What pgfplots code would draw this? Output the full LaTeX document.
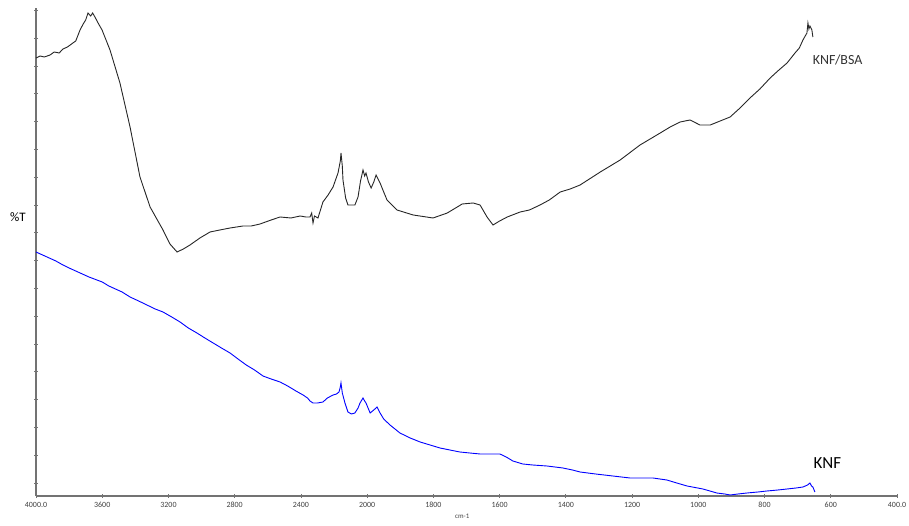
\documentclass[border=0pt]{standalone}
\usepackage{fontspec}
\setmainfont{Carlito}
\usepackage{pgfplots}
\pgfplotsset{compat=1.18}
\usepackage{pgfplotstable}

\pgfplotstableread{
w t
4000 438
3975 440
3950 439
3915 441
3890 444
3860 443
3837 447
3810 449
3777 453
3760 455
3734 466
3715 472
3700 476
3686 483
3670 480
3658 483
3644 479
3625 473
3601 466
3553 446
3493 413
3432 369
3372 319
3311 289
3233 266
3191 252
3148 244
3110 247
3070 251
3010 258
2949 264
2890 266
2828 268
2750 270
2700 270
2647 272
2580 276
2526 279
2460 278
2405 280
2370 279
2345 279
2335 283
2327 273
2318 280
2297 278
2267 294
2236 301
2206 309
2176 323
2162 335
2158 343
2150 330
2146 316
2130 298
2116 291
2074 291
2055 299
2040 315
2025 326
2015 320
2007 323
1996 314
1988 308
1980 314
1973 321
1961 313
1950 304
1940 296
1910 286
1861 281
1801 278
1758 283
1713 292
1680 293
1659 291
1638 279
1620 271
1600 275
1577 279
1538 284
1510 286
1478 291
1450 296
1417 304
1387 307
1357 311
1296 324
1236 336
1176 351
1115 363
1085 369
1055 374
1025 376
995 371
964 371
934 375
904 379
874 388
844 398
814 407
783 418
760 425
732 433
708 443
695 448
684 456
672 463
669 473
666 467
663 470
657 466
654 459
}\bsa

\pgfplotstableread{
w t
4000 244
3960 241
3920 238
3880 235
3837 231
3800 228
3760 225
3720 222
3680 219
3632 216
3600 214
3560 210
3520 207
3480 204
3432 199
3380 195
3330 191
3280 187
3233 184
3180 179
3130 174
3080 168
3028 163
2980 158
2930 153
2880 148
2828 143
2780 137
2730 131
2680 126
2629 120
2580 117
2526 114
2480 110
2430 105
2387 101
2360 98
2345 95
2327 93
2300 93
2267 94
2240 98
2206 101
2185 102
2170 104
2162 109
2158 113
2150 103
2134 93
2116 84
2095 82
2074 83
2055 88
2043 93
2025 98
2015 95
2007 93
1991 83
1980 86
1970 89
1961 83
1950 77
1931 71
1901 63
1870 58
1840 54
1810 51
1780 48
1750 46
1720 44
1690 43
1659 42
1630 42
1599 42
1580 39
1560 35
1530 32
1500 31
1457 30
1409 28
1380 26
1357 24
1310 22
1258 20
1206 18
1170 18
1137 18
1095 16
1065 13
1034 10
986 7
944 3
920 2
904 1
880 2
853 3
820 4
793 5
760 6
732 7
705 8
684 9
670 11
663 13
658 10
654 9
648 4
}\knf

\begin{document}
\begin{tikzpicture}
\useasboundingbox (0,0) rectangle (909bp,526bp);
\begin{axis}[
  at={(36bp,30bp)}, anchor=south west,
  scale only axis, width=861bp, height=488bp,
  xmin=0, xmax=13, ymin=0, ymax=488,
  axis x line=bottom, axis y line=left,
  axis line style={-, draw=black!55, line width=1.2bp},
  xtick={0,1,...,13},
  xticklabels={4000.0,3600,3200,2800,2400,2000,1800,1600,1400,1200,1000,800,600,400.0},
  ytick={13,40.8,68.6,96.4,124.2,152,179.8,207.6,235.4,263.2,291,318.8,346.6,374.4,402.2,430,457.8,485.6},
  yticklabels={},
  tick style={draw=black!55, line width=0.8bp},
  major tick length=3bp,
  tick align=center,
  /pgf/number format/assume math mode=true,
  ticklabel style={font=\fontsize{8}{9}\selectfont, text=black!75},
  xticklabel style={yshift=-1bp},
  clip=false,
]
\addplot[black!85, line width=0.9bp] table[x expr={(4000-max(\thisrow{w},2000))/400+(2000-min(\thisrow{w},2000))/200}, y=t]{\bsa};
\addplot[blue, line width=0.9bp] table[x expr={(4000-max(\thisrow{w},2000))/400+(2000-min(\thisrow{w},2000))/200}, y=t]{\knf};
\node[font=\fontsize{13}{14}\selectfont] at (rel axis cs:-0.021,0.572) {\%T};
\node[font=\fontsize{14}{15}\selectfont, text=black!80] at (rel axis cs:0.931,0.893) {KNF/BSA};
\node[font=\fontsize{17}{18}\selectfont] at (rel axis cs:0.919,0.068) {KNF};
\node[font=\fontsize{7}{8}\selectfont, text=black!75] at (rel axis cs:0.495,-0.041) {cm-1};
\end{axis}
\end{tikzpicture}
\end{document}
